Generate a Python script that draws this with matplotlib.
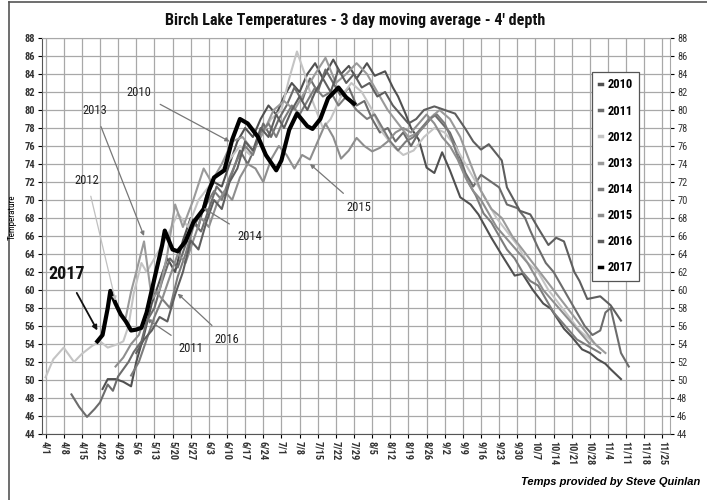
import pandas as pd
import matplotlib
matplotlib.use('Agg')
import matplotlib.pyplot as plt
from matplotlib.lines import Line2D
from matplotlib import font_manager

# ---- data (date "M/D", temperature F) ----
years = ['2010', '2011', '2012', '2013', '2014', '2015', '2016', '2017']

d2010 = ['4/23', '4/25', '4/28', '5/1', '5/4', '5/6', '5/9', '5/12', '5/15', '5/18', '5/21', '5/24', '5/27', '5/30',
         '6/2', '6/5', '6/8', '6/11', '6/14', '6/17', '6/20', '6/23', '6/26', '6/29', '7/2', '7/5', '7/8', '7/11',
         '7/14', '7/17', '7/21', '7/24', '7/27', '7/30', '8/3', '8/6', '8/10', '8/13', '8/15', '8/18', '8/20', '8/23',
         '8/26', '8/29', '9/1', '9/4', '9/8', '9/12', '9/15', '9/20', '9/24', '9/29', '10/2', '10/6', '10/10', '10/13',
         '10/18', '10/21', '10/25', '10/28', '10/31', '11/3', '11/5', '11/9']
t2010 = [49.0, 50.1, 50.1, 49.8, 49.3, 52.0, 55.0, 58.5, 61.0, 63.5, 62.0, 65.5, 68.0, 67.0,
         70.5, 72.0, 71.5, 74.0, 76.5, 78.0, 77.0, 79.0, 80.5, 79.5, 81.5, 83.0, 82.0, 84.0,
         85.2, 83.5, 85.6, 84.0, 84.9, 83.5, 85.2, 83.8, 84.3, 82.5, 81.5, 79.5, 78.0, 76.7,
         73.6, 73.0, 75.3, 73.3, 70.3, 69.5, 68.4, 65.8, 63.9, 61.6, 61.8, 60.0, 58.5, 57.9,
         55.7, 54.8, 53.4, 53.0, 52.3, 51.8, 51.2, 50.1]

d2011 = ['4/11', '4/14', '4/17', '4/20', '4/22', '4/25', '4/27', '4/29', '5/1', '5/3', '5/5', '5/8', '5/10', '5/13',
         '5/16', '5/19', '5/22', '5/25', '5/28', '5/31', '6/3', '6/6', '6/9', '6/12', '6/15', '6/18', '6/21', '6/24',
         '6/27', '6/30', '7/3', '7/6', '7/9', '7/12', '7/15', '7/18', '7/21', '7/24', '7/27', '7/30', '8/2', '8/5',
         '8/8', '8/11', '8/14', '8/17', '8/20', '8/23', '8/26', '8/29', '9/1', '9/4', '9/7', '9/10', '9/13', '9/16',
         '9/19', '9/23', '9/26', '9/30', '10/3', '10/5', '10/8', '10/11', '10/14', '10/17', '10/20', '10/23', '10/26',
         '10/29', '11/1', '11/3', '11/5', '11/7', '11/9', '11/12']
t2011 = [48.4, 47.0, 45.9, 46.8, 47.5, 49.5, 48.8, 50.4, 51.2, 52.0, 53.1, 54.3, 56.5, 58.0,
         61.0, 63.5, 62.5, 65.0, 67.5, 66.5, 69.0, 71.5, 70.5, 73.0, 75.5, 74.0, 76.0, 78.5,
         77.0, 79.0, 80.5, 82.5, 81.0, 83.5, 82.0, 84.5, 83.0, 81.5, 82.5, 80.5, 81.0, 79.0,
         77.5, 78.0, 76.5, 77.5, 76.0, 77.5, 78.5, 79.5, 78.5, 77.5, 75.5, 73.0, 71.5, 72.8,
         72.2, 71.4, 69.5, 69.1, 68.0, 66.6, 64.7, 63.0, 62.0, 60.5, 59.0, 57.5, 56.0,
         55.0, 55.5, 57.5, 58.0, 55.5, 53.0, 51.5]

d2012 = ['4/1', '4/4', '4/8', '4/12', '4/15', '4/19', '4/22', '4/25', '4/29', '5/1', '5/3', '5/5', '5/8', '5/10',
         '5/14', '5/18', '5/22', '5/26', '5/30', '6/3', '6/7', '6/11', '6/15', '6/19', '6/23', '6/27', '7/1', '7/4',
         '7/7', '7/10', '7/13', '7/17', '7/20', '7/24', '7/28', '8/1', '8/5', '8/9', '8/13', '8/17', '8/21', '8/25',
         '8/29', '9/2', '9/6', '9/10', '9/14', '9/18', '9/22', '9/26', '9/30', '10/4', '10/8', '10/12', '10/16',
         '10/20', '10/24', '10/28', '11/1']
t2012 = [50.3, 52.3, 53.6, 52.0, 52.9, 53.8, 54.3, 53.6, 54.0, 54.3, 56.0, 59.6, 63.0, 62.0,
         64.0, 66.0, 68.5, 67.0, 70.0, 71.5, 73.0, 74.5, 76.0, 75.0, 77.0, 79.0, 80.0, 83.5,
         86.5, 84.0, 81.0, 78.0, 79.0, 81.5, 83.0, 82.0, 80.0, 77.5, 76.0, 75.0, 75.5, 77.0,
         78.0, 77.5, 76.0, 74.0, 72.0, 70.0, 68.0, 66.5, 65.0, 63.0, 62.0, 60.0, 58.5,
         57.0, 55.5, 54.5, 53.5]

d2013 = ['5/2', '5/4', '5/6', '5/9', '5/12', '5/15', '5/18', '5/21', '5/24', '5/28', '6/1', '6/4', '6/8', '6/12',
         '6/16', '6/20', '6/24', '6/28', '7/2', '7/6', '7/10', '7/14', '7/18', '7/22', '7/26', '7/30', '8/3', '8/7',
         '8/11', '8/15', '8/19', '8/23', '8/27', '8/31', '9/4', '9/8', '9/12', '9/16', '9/20', '9/24', '9/28', '10/2',
         '10/6', '10/10', '10/14', '10/18', '10/22', '10/26', '10/30', '11/3']
t2013 = [57.0, 59.8, 62.0, 65.4, 59.0, 60.0, 64.0, 69.5, 67.0, 70.0, 73.5, 72.0, 74.0, 76.5,
         77.0, 75.5, 77.5, 80.0, 81.0, 80.0, 82.0, 84.0, 85.8, 83.0, 84.0, 85.2, 84.0, 82.0,
         80.0, 78.5, 77.0, 77.5, 79.0, 80.0, 79.0, 77.0, 74.0, 71.0, 69.0, 68.0, 66.0, 64.5,
         63.0, 61.5, 60.0, 58.5, 57.0, 55.5, 54.0, 53.0]

d2014 = ['5/4', '5/7', '5/10', '5/13', '5/16', '5/19', '5/22', '5/25', '5/28', '5/31', '6/2', '6/5', '6/8', '6/11',
         '6/14', '6/17', '6/20', '6/23', '6/26', '6/29', '7/2', '7/5', '7/8', '7/11', '7/14', '7/17', '7/20', '7/23',
         '7/26', '7/30', '8/3', '8/6', '8/9', '8/12', '8/15', '8/18', '8/21', '8/24', '8/27', '8/30', '9/2', '9/5',
         '9/8', '9/11', '9/14', '9/17', '9/20', '9/23', '9/26', '9/29', '10/2', '10/5', '10/8', '10/11', '10/14',
         '10/17', '10/20', '10/23', '10/26', '10/29', '11/1']
t2014 = [50.5, 52.0, 54.5, 57.0, 59.0, 58.0, 61.5, 64.0, 67.0, 68.5, 69.5, 71.0, 70.0, 72.5,
         74.5, 76.0, 75.0, 77.5, 78.5, 77.0, 79.0, 80.5, 79.5, 81.0, 82.5, 81.5, 82.0, 80.5,
         81.5, 80.0, 79.0, 79.5, 78.0, 76.5, 75.5, 76.5, 77.0, 78.0, 79.0, 79.5, 78.5, 76.5,
         74.0, 72.0, 70.5, 68.5, 67.5, 66.0, 64.5, 63.5, 62.0, 61.0, 60.5, 59.0, 57.5,
         56.5, 55.5, 54.5, 54.0, 53.5, 53.0]

d2015 = ['4/28', '5/1', '5/4', '5/7', '5/10', '5/13', '5/16', '5/19', '5/22', '5/25', '5/28', '5/31', '6/3', '6/6',
         '6/9', '6/12', '6/15', '6/18', '6/21', '6/24', '6/27', '6/30', '7/3', '7/6', '7/9', '7/12', '7/15', '7/18',
         '7/21', '7/24', '7/27', '7/30', '8/2', '8/5', '8/8', '8/11', '8/14', '8/17', '8/20', '8/23', '8/26', '8/29',
         '9/1', '9/4', '9/7', '9/10', '9/13', '9/16', '9/19', '9/22', '9/25', '9/28', '10/1', '10/4', '10/7',
         '10/10', '10/13', '10/16', '10/19', '10/22', '10/25', '10/28']
t2015 = [51.5, 52.5, 54.0, 55.0, 57.5, 60.0, 59.0, 61.5, 64.0, 63.0, 65.5, 68.0, 67.0, 69.5,
         71.0, 70.0, 72.5, 74.0, 73.5, 72.0, 74.5, 76.0, 75.0, 73.5, 75.0, 74.5, 76.5, 78.5,
         77.0, 74.6, 75.5, 76.9, 76.0, 75.4, 75.8, 76.5, 77.5, 78.0, 77.5, 78.5, 79.5, 78.5,
         77.0, 76.0, 74.5, 72.5, 71.0, 70.0, 68.5, 67.0, 66.0, 65.0, 64.0, 63.0, 61.5,
         60.0, 59.0, 58.0, 57.0, 56.0, 55.0, 54.0]

d2016 = ['5/6', '5/9', '5/12', '5/15', '5/18', '5/21', '5/24', '5/27', '5/30', '6/2', '6/5', '6/8', '6/11', '6/14',
         '6/17', '6/20', '6/23', '6/26', '6/29', '7/2', '7/5', '7/8', '7/11', '7/14', '7/17', '7/20', '7/23', '7/26',
         '7/29', '8/1', '8/4', '8/7', '8/10', '8/13', '8/16', '8/19', '8/22', '8/25', '8/29', '9/2', '9/6', '9/10',
         '9/13', '9/16', '9/19', '9/24', '9/26', '10/1', '10/5', '10/8', '10/12', '10/15', '10/18', '10/22', '10/24',
         '10/27', '11/1', '11/5', '11/9']
t2016 = [53.0, 54.5, 55.5, 57.0, 56.5, 59.5, 62.0, 65.5, 64.5, 67.5, 70.0, 69.0, 72.0, 73.5,
         76.5, 75.5, 78.0, 77.0, 79.5, 78.0, 80.0, 81.5, 80.0, 82.0, 83.5, 82.0, 84.5, 83.0,
         84.0, 82.5, 83.0, 81.5, 82.0, 80.5, 79.5, 78.5, 79.0, 80.0, 80.4, 80.0, 79.6, 77.9,
         76.5, 75.6, 76.2, 74.4, 71.4, 68.8, 68.4, 66.9, 65.0, 65.8, 65.4, 62.0, 61.0,
         59.0, 59.3, 58.3, 56.6]

d2017 = ['4/21', '4/23', '4/25', '4/26', '4/28', '4/30', '5/2', '5/4', '5/6', '5/8', '5/10', '5/12', '5/14', '5/16',
         '5/17', '5/20', '5/22', '5/25', '5/28', '6/1', '6/3', '6/5', '6/9', '6/12', '6/15', '6/18', '6/22', '6/25',
         '6/29', '7/1', '7/4', '7/7', '7/11', '7/13', '7/16', '7/19', '7/23', '7/26', '7/29']
t2017 = [54.3, 55.0, 58.0, 59.9, 58.5, 57.3, 56.5, 55.5, 55.6, 55.8, 57.5, 60.0, 62.5, 65.0,
         66.6, 64.5, 64.3, 65.4, 67.5, 69.0, 71.0, 72.5, 73.3, 76.7, 79.0, 78.5, 77.0, 75.0,
         73.3, 74.4, 77.8, 79.6, 78.2, 77.9, 79.0, 81.3, 82.5, 81.4, 80.7]

dates = [d2010, d2011, d2012, d2013, d2014, d2015, d2016, d2017]
temps = [t2010, t2011, t2012, t2013, t2014, t2015, t2016, t2017]

week_labels = ['4/1', '4/8', '4/15', '4/22', '4/29', '5/6', '5/13', '5/20', '5/27', '6/3', '6/10', '6/17',
               '6/24', '7/1', '7/8', '7/15', '7/22', '7/29', '8/5', '8/12', '8/19', '8/26', '9/2', '9/9',
               '9/16', '9/23', '9/30', '10/7', '10/14', '10/21', '10/28', '11/4', '11/11', '11/18', '11/25']

# callouts: label, text position (date, temp), arrow tip (date, temp)
callouts = [('2010', ('5/7', 81.9), ('6/11', 76.5)),
            ('2013', ('4/20', 79.9), ('5/9', 66.0)),
            ('2012', ('4/17', 72.2), ('4/28', 58.8)),
            ('2014', ('6/19', 65.9), ('6/1', 69.1)),
            ('2015', ('7/31', 69.2), ('7/12', 74.0)),
            ('2011', ('5/27', 53.5), ('5/10', 56.8)),
            ('2016', ('6/10', 54.5), ('5/22', 59.6))]


def day_of(s):
  return (pd.Timestamp('2017/' + s) - pd.Timestamp('2017/4/1')).days


# pick a narrow font if one is installed (the original is Arial Narrow-ish)
fonts = font_manager.fontManager.ttflist
names = {f.name for f in fonts}
narrow_family = None
narrow_stretch = 'normal'
for n in ['Liberation Sans Narrow', 'Arial Narrow', 'DejaVu Sans Condensed', 'Roboto Condensed',
          'Noto Sans Condensed', 'Open Sans Condensed']:
  if n in names:
    narrow_family = n
    break
if narrow_family is None:
  for n in ['Noto Sans', 'DejaVu Sans', 'Open Sans', 'Roboto']:
    cond = [f for f in fonts if f.name == n and str(f.stretch) in ('condensed', 'semi-condensed',
                                                                     'extra-condensed', '75', '87.5')]
    if cond:
      narrow_family = n
      narrow_stretch = 'condensed'
      break
if narrow_family is None:
  narrow_family = 'Liberation Sans'

plt.rcParams['font.family'] = [narrow_family, 'DejaVu Sans']
plt.rcParams['font.stretch'] = narrow_stretch

colors = ['#505050', '#6c6c6c', '#c4c4c4', '#9a9a9a', '#7c7c7c', '#8e8e8e', '#5e5e5e', '#000000']
widths = [1.5, 1.5, 1.5, 1.5, 1.5, 1.5, 1.5, 3.0]

fig = plt.figure(figsize=(7.07, 5.0), dpi=100)
fig.patch.set_facecolor('white')
ax = fig.add_axes([0.06, 0.132, 0.888, 0.792])
ax.set_facecolor('white')

for yr, dd, tt, c, w in zip(years, dates, temps, colors, widths):
  x = [day_of(s) for s in dd]
  ax.plot(x, tt, color=c, lw=w, label=yr, solid_joinstyle='round', zorder=3 if yr == '2017' else 2)

ax.set_xlim(-1.2, 241)
ax.set_ylim(44, 88)
ax.set_xticks([day_of(s) for s in week_labels])
ax.set_xticklabels(week_labels, rotation=-90, fontsize=7.5, fontweight='bold', color='#333333')
ax.set_yticks(range(44, 89, 2))
for lab in ax.get_yticklabels():
  lab.set_fontweight('bold')
ax.tick_params(axis='y', labelsize=7.5, labelcolor='#333333', right=True, labelright=True, length=3, pad=2)
ax.tick_params(axis='x', length=3, pad=2)
ax.grid(True, color='#a8a8a8', lw=0.9)
for side in ['top', 'right']:
  ax.spines[side].set_color('#a8a8a8')
ax.spines['left'].set_color('#555555')
ax.spines['bottom'].set_color('#555555')

for lab, (tx, ty), (px, py) in callouts:
  ax.annotate(lab, xy=(day_of(px), py), xytext=(day_of(tx), ty), fontsize=9, color='#222222',
              ha='center', va='center',
              arrowprops=dict(arrowstyle='-|>', color='#777777' if lab != '2012' else '#c0c0c0',
                              lw=0.9, mutation_scale=6, shrinkA=5, shrinkB=0))
ax.annotate('2017', xy=(day_of('4/21'), 55.5), xytext=(day_of('4/9'), 61.8), fontsize=13,
            fontweight='bold', color='#111111', ha='center', va='center',
            arrowprops=dict(arrowstyle='-|>', color='#111111', lw=1.3, mutation_scale=7,
                            shrinkA=6, shrinkB=0))

handles = [Line2D([], [], color=c, lw=2.5) for c in colors]
leg = fig.legend(handles, years, loc='upper left', bbox_to_anchor=(0.829, 0.868), fontsize=9,
                 handlelength=0.3, handletextpad=0.4, labelspacing=1.05, borderpad=0.5,
                 fancybox=False, edgecolor='#555555', framealpha=1)
leg.get_frame().set_linewidth(0.9)
for t in leg.get_texts():
  t.set_fontweight('bold')

title = fig.text(0.502, 0.958, "Birch Lake Temperatures - 3 day moving average - 4' depth", ha='center',
                 va='center', fontsize=13, fontweight='bold', color='#111111')
# fit the title to the width it has in the original
fig.canvas.draw()
w = title.get_window_extent().width
title.set_fontsize(max(9.5, min(15, 13 * 380.0 / w)))

fig.text(0.017, 0.565, 'Temperature', rotation=90, ha='center', va='center', fontsize=6.5)
fig.text(0.99, 0.036, 'Temps provided by Steve Quinlan', ha='right', va='center', fontsize=8,
         fontweight='bold', style='italic', family=['Liberation Sans', 'DejaVu Sans'], stretch='normal')

# outer frame lines (top and left)
fig.add_artist(Line2D([0.013, 1.0], [0.996, 0.996], color='#555555', lw=1.2))
fig.add_artist(Line2D([0.013, 0.013], [0.0, 0.996], color='#555555', lw=1.2))

fig.savefig('out.png', dpi=100)
